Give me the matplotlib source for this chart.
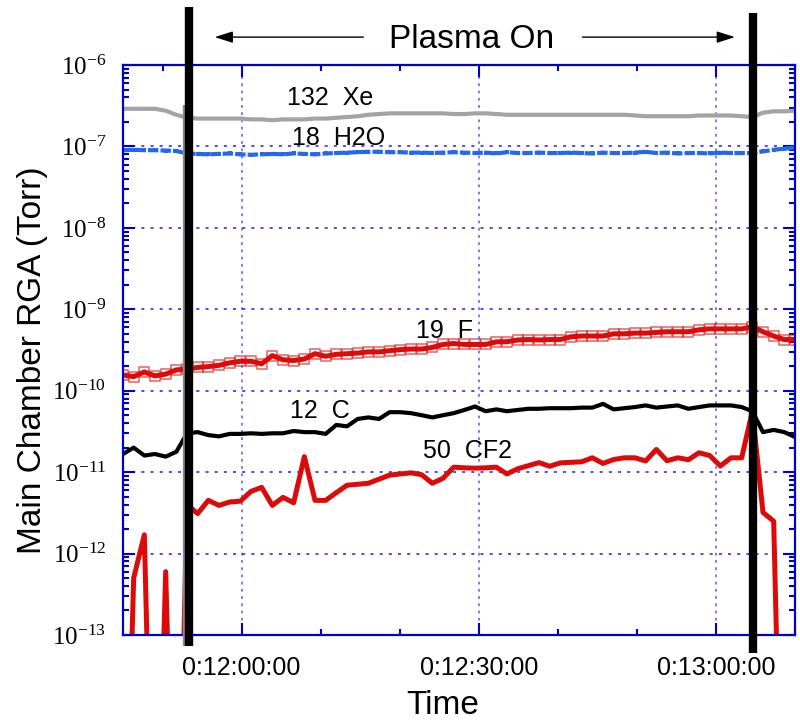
import numpy as np
import matplotlib.pyplot as plt
import matplotlib.transforms as mtransforms
from matplotlib.ticker import FixedLocator, LogLocator, NullFormatter, MultipleLocator

plt.rcParams['font.family'] = ['Liberation Sans', 'DejaVu Sans']
plt.rcParams['mathtext.fontset'] = 'custom'
plt.rcParams['mathtext.rm'] = 'Liberation Serif'
plt.rcParams['mathtext.it'] = 'Liberation Serif:italic'
plt.rcParams['mathtext.bf'] = 'Liberation Serif:bold'

# time in seconds (0:11:45 .. 0:13:10), one RGA scan every ~1.35 s
t = np.linspace(705, 790, 64)

xe132 = [2.9e-7, 2.9e-7, 2.9e-7, 2.9e-7, 2.75e-7, 2.45e-7, 2.25e-7, 2.2e-7,
         2.2e-7, 2.2e-7, 2.2e-7, 2.2e-7, 2.15e-7, 2.15e-7, 2.1e-7, 2.15e-7,
         2.15e-7, 2.15e-7, 2.2e-7, 2.2e-7, 2.25e-7, 2.3e-7, 2.35e-7, 2.45e-7,
         2.5e-7, 2.55e-7, 2.55e-7, 2.55e-7, 2.55e-7, 2.55e-7, 2.55e-7, 2.5e-7,
         2.5e-7, 2.55e-7, 2.55e-7, 2.5e-7, 2.45e-7, 2.45e-7, 2.45e-7, 2.45e-7,
         2.45e-7, 2.45e-7, 2.45e-7, 2.45e-7, 2.45e-7, 2.45e-7, 2.45e-7, 2.45e-7,
         2.4e-7, 2.35e-7, 2.35e-7, 2.35e-7, 2.35e-7, 2.35e-7, 2.4e-7, 2.4e-7,
         2.4e-7, 2.4e-7, 2.35e-7, 2.3e-7, 2.6e-7, 2.7e-7, 2.7e-7, 2.75e-7]

h2o18 = [9.0e-8, 9.1e-8, 9.0e-8, 9.0e-8, 8.9e-8, 8.8e-8, 8.2e-8, 8.1e-8,
         8.0e-8, 8.1e-8, 8.2e-8, 8.0e-8, 7.9e-8, 8.0e-8, 8.1e-8, 8.0e-8,
         8.2e-8, 8.1e-8, 8.0e-8, 8.2e-8, 8.3e-8, 8.4e-8, 8.5e-8, 8.6e-8,
         8.6e-8, 8.5e-8, 8.5e-8, 8.4e-8, 8.4e-8, 8.3e-8, 8.4e-8, 8.5e-8,
         8.4e-8, 8.3e-8, 8.4e-8, 8.2e-8, 8.5e-8, 8.3e-8, 8.3e-8, 8.4e-8,
         8.3e-8, 8.3e-8, 8.4e-8, 8.3e-8, 8.2e-8, 8.4e-8, 8.3e-8, 8.3e-8,
         8.4e-8, 8.6e-8, 8.3e-8, 8.4e-8, 8.2e-8, 8.3e-8, 8.3e-8, 8.2e-8,
         8.4e-8, 8.3e-8, 8.3e-8, 8.3e-8, 8.7e-8, 9.1e-8, 9.4e-8, 9.7e-8]

f19 = [1.56e-10, 1.49e-10, 1.7e-10, 1.52e-10, 1.6e-10, 1.8e-10, 1.85e-10, 1.93e-10,
       1.98e-10, 2.05e-10, 2.2e-10, 2.3e-10, 2.3e-10, 2.14e-10, 2.7e-10, 2.4e-10,
       2.35e-10, 2.45e-10, 2.85e-10, 2.65e-10, 2.8e-10, 2.85e-10, 2.9e-10, 3.0e-10,
       3.0e-10, 3.1e-10, 3.2e-10, 3.25e-10, 3.25e-10, 3.4e-10, 3.7e-10, 3.8e-10,
       3.7e-10, 3.7e-10, 3.7e-10, 3.98e-10, 4.0e-10, 4.2e-10, 4.25e-10, 4.2e-10,
       4.25e-10, 4.25e-10, 4.6e-10, 4.7e-10, 4.7e-10, 4.7e-10, 5.0e-10, 5.0e-10,
       5.1e-10, 5.1e-10, 5.2e-10, 5.3e-10, 5.3e-10, 5.3e-10, 5.6e-10, 5.75e-10,
       5.75e-10, 5.75e-10, 5.75e-10, 6.1e-10, 5.3e-10, 4.7e-10, 4.25e-10, 4.25e-10]

c12 = [1.67e-11, 2.0e-11, 1.6e-11, 1.67e-11, 1.55e-11, 1.78e-11, 3.0e-11, 3.1e-11,
       2.85e-11, 2.75e-11, 2.95e-11, 2.95e-11, 3.0e-11, 2.95e-11, 3.0e-11, 3.0e-11,
       3.2e-11, 3.1e-11, 3.1e-11, 2.95e-11, 3.8e-11, 3.65e-11, 4.5e-11, 4.7e-11,
       4.5e-11, 5.45e-11, 5.45e-11, 5.3e-11, 5.0e-11, 4.7e-11, 5.0e-11, 5.3e-11,
       5.8e-11, 6.4e-11, 5.6e-11, 5.9e-11, 5.6e-11, 5.8e-11, 6.0e-11, 6.0e-11,
       6.1e-11, 6.1e-11, 6.1e-11, 6.2e-11, 6.2e-11, 6.9e-11, 5.9e-11, 6.1e-11,
       6.3e-11, 6.6e-11, 6.2e-11, 6.4e-11, 6.6e-11, 6.0e-11, 6.3e-11, 6.6e-11,
       6.6e-11, 6.6e-11, 6.3e-11, 5.6e-11, 3.1e-11, 3.3e-11, 3.1e-11, 2.7e-11]

# values under 1e-13 are off the bottom of the plot
cf2_50 = [1e-17, 5e-13, 1.7e-12, 1e-17, 6e-13, 1e-17, 4e-12, 3.1e-12,
          4.5e-12, 3.9e-12, 4.3e-12, 4.4e-12, 5.8e-12, 6.5e-12, 3.9e-12, 4.9e-12,
          4.2e-12, 1.55e-11, 4.5e-12, 4.5e-12, 5.6e-12, 6.9e-12, 7.1e-12, 7.3e-12,
          8.2e-12, 9.2e-12, 9.5e-12, 9.8e-12, 9.3e-12, 7.3e-12, 8.4e-12, 1.15e-11,
          1.13e-11, 1.12e-11, 1.13e-11, 1.15e-11, 9.5e-12, 1.1e-11, 1.2e-11, 1.31e-11,
          1.18e-11, 1.3e-11, 1.32e-11, 1.34e-11, 1.5e-11, 1.28e-11, 1.43e-11, 1.5e-11,
          1.5e-11, 1.37e-11, 1.9e-11, 1.38e-11, 1.5e-11, 1.42e-11, 1.73e-11, 1.6e-11,
          1.19e-11, 1.5e-11, 1.5e-11, 5.6e-11, 3.2e-12, 2.5e-12, 1e-17, 1e-17]

plasma_on = 713.35
plasma_off = 784.7

xticks = [720, 750, 780]
xticklabels = ['0:12:00:00', '0:12:30:00', '0:13:00:00']
ydecades = [1e-13, 1e-12, 1e-11, 1e-10, 1e-9, 1e-8, 1e-7, 1e-6]
yticklabels = ['$10^{-13}$', '$10^{-12}$', '$10^{-11}$', '$10^{-10}$',
               '$10^{-9}$', '$10^{-8}$', '$10^{-7}$', '$10^{-6}$']

blue = '#0000cc'
red = '#dd0a0a'

fig = plt.figure(figsize=(8, 7.21), dpi=100)
ax = fig.add_axes([0.15375, 0.1193, 0.84, 0.7905])

ax.plot(t, xe132, color='#a3a3a3', lw=3)
ax.plot(t, h2o18, color='#2468ee', lw=3, dashes=(2.5, 0.5),
        marker='s', ms=3, mew=0)
ax.plot(t, f19, color=red, lw=3.6, marker='s', ms=7.5, mfc='none',
        mec=(0.87, 0.05, 0.05, 0.65), mew=1.1)
ax.plot(t, c12, color='black', lw=3)
ax.plot(t, cf2_50, color=red, lw=3.6)

ax.set_yscale('log')
ax.set_ylim(1e-13, 1e-6)
ax.set_xlim(705, 790)

ax.yaxis.set_major_locator(FixedLocator(ydecades))
ax.set_yticklabels(yticklabels)
ax.yaxis.set_minor_locator(LogLocator(base=10, subs=np.arange(2, 10)))
ax.yaxis.set_minor_formatter(NullFormatter())
ax.set_xticks(xticks)
ax.set_xticklabels(xticklabels)
ax.xaxis.set_minor_locator(MultipleLocator(10))

for s in ax.spines.values():
    s.set_color(blue)
    s.set_linewidth(1.6)
ax.tick_params(which='both', direction='in', top=True, right=True,
               color=blue, width=1.5, labelcolor='black')
ax.tick_params(which='major', length=8.5)
ax.tick_params(which='minor', length=4.5)
ax.tick_params(axis='x', pad=15, labelsize=18)
ax.tick_params(axis='y', pad=12, labelsize=18)

ax.grid(True, which='major', axis='y', color='#2020dd', ls=(0, (2, 4)), lw=1.1)
ax.grid(True, which='major', axis='x', color='#6f6ff5', ls=(0, (1.5, 2.5)), lw=1.3)

ax.set_ylabel('Main Chamber RGA (Torr)', fontsize=24)
ax.yaxis.set_label_coords(-0.112, 0.482)
fig.text(443 / 800, 0.022, 'Time', fontsize=24, ha='center', va='center')

lab = dict(fontsize=18, ha='center', va='baseline', transform=ax.transAxes)
ax.text(0.308, 0.930, '132  Xe', **lab)
ax.text(0.321, 0.860, '18  H2O', **lab)
ax.text(0.478, 0.521, '19  F', **lab)
ax.text(0.293, 0.381, '12  C', **lab)
ax.text(0.512, 0.311, '50  CF2', **lab)

# plasma on / off markers reach above and below the frame
ax.axvline(plasma_on - 0.3, ymin=-0.019, ymax=0.93, color='#8a8a8a', lw=6,
           clip_on=False, zorder=9, solid_capstyle='butt')
ax.axvline(plasma_on, ymin=-0.019, ymax=1.102, color='black', lw=6,
           clip_on=False, zorder=10, solid_capstyle='butt')
ax.axvline(plasma_off, ymin=-0.032, ymax=1.091, color='black', lw=6,
           clip_on=False, zorder=10, solid_capstyle='butt')

trans = mtransforms.blended_transform_factory(ax.transData, ax.transAxes)
arr = dict(arrowstyle='-|>,head_length=1.1,head_width=0.35', color='black',
           lw=1, shrinkA=0, shrinkB=0)
ax.annotate('', xy=(716.6, 1.049), xytext=(735.4, 1.049), xycoords=trans,
            textcoords=trans, arrowprops=arr, annotation_clip=False)
ax.annotate('', xy=(782.4, 1.049), xytext=(763.1, 1.049), xycoords=trans,
            textcoords=trans, arrowprops=arr, annotation_clip=False)
ax.text(749.1, 1.03, 'Plasma On', transform=trans, fontsize=24,
        ha='center', va='baseline')

fig.savefig('out.png', dpi=100)
